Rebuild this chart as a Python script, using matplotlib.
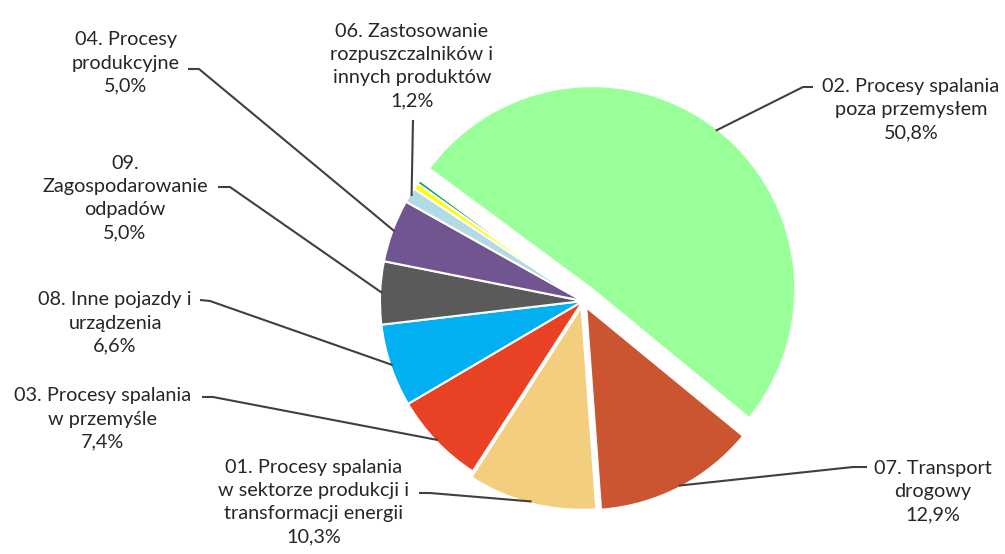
import numpy as np
import matplotlib.pyplot as plt

# dane: udział źródeł w emisji (kolejność zgodnie z ruchem wskazówek zegara)
kategorie = ['02. Procesy spalania\npoza przemysłem',
             '07. Transport\ndrogowy',
             '01. Procesy spalania\nw sektorze produkcji i\ntransformacji energii',
             '03. Procesy spalania\nw przemyśle',
             '08. Inne pojazdy i\nurządzenia',
             '09.\nZagospodarowanie\nodpadów',
             '04. Procesy\nprodukcyjne',
             '06. Zastosowanie\nrozpuszczalników i\ninnych produktów',
             '', '']
udzialy = [50.8, 12.9, 10.3, 7.4, 6.6, 5.0, 5.0, 1.2, 0.5, 0.3]
kolory = ['#99ff99', '#cb5431', '#f3ce7e', '#e84123', '#00b0f0',
          '#5a5a5a', '#705590', '#b3dbe6', '#ffff00', '#00a050']

# pozycje etykiet w pikselach: (x, y) środka tekstu, punkty linii odniesienia
etykiety_poz = {
    0: ((911, 110), [(813, 87), (803, 87)]),
    1: ((933, 492), [(867, 467), (853, 467)]),
    2: ((314, 502), [(419, 493), (430, 493)]),
    3: ((103, 419), [(202, 397), (213, 397)]),
    4: ((115, 323), [(200, 300), (210, 301)]),
    5: ((125, 198), [(218, 187), (230, 187)]),
    6: ((126, 63), [(188, 69), (199, 69)]),
    7: ((412, 66), [(413, 120)]),
}

fig = plt.figure(figsize=(10.05, 5.54), dpi=100)
ax = fig.add_axes([0, 0, 1, 1])

wedges, _ = ax.pie(udzialy, colors=kolory, startangle=143.5, counterclock=False,
                   explode=[15, 7, 6, 0, 0, 0, 0, 0, 0, 0],
                   radius=203, center=(583, -301),
                   wedgeprops=dict(edgecolor='white', linewidth=1.5))
ax.set_xlim(0, 1005)
ax.set_ylim(-554, 0)
ax.axis('off')

for i, ((tx, ty), pts) in etykiety_poz.items():
    proc = f'{udzialy[i]:.1f}%'.replace('.', ',')
    ax.text(tx, -ty, kategorie[i] + '\n' + proc, ha='center', va='center',
            fontsize=14.3, family='Lato', color='#262626', linespacing=1.45)
    w = wedges[i]
    th = np.deg2rad((w.theta1 + w.theta2) / 2)
    ex = w.center[0] + w.r * 0.99 * np.cos(th)
    ey = w.center[1] + w.r * 0.99 * np.sin(th)
    xs = [p[0] for p in pts] + [ex]
    ys = [-p[1] for p in pts] + [ey]
    ax.plot(xs, ys, color='#404040', lw=1.5, solid_capstyle='butt')

plt.savefig('out.png', dpi=100)
